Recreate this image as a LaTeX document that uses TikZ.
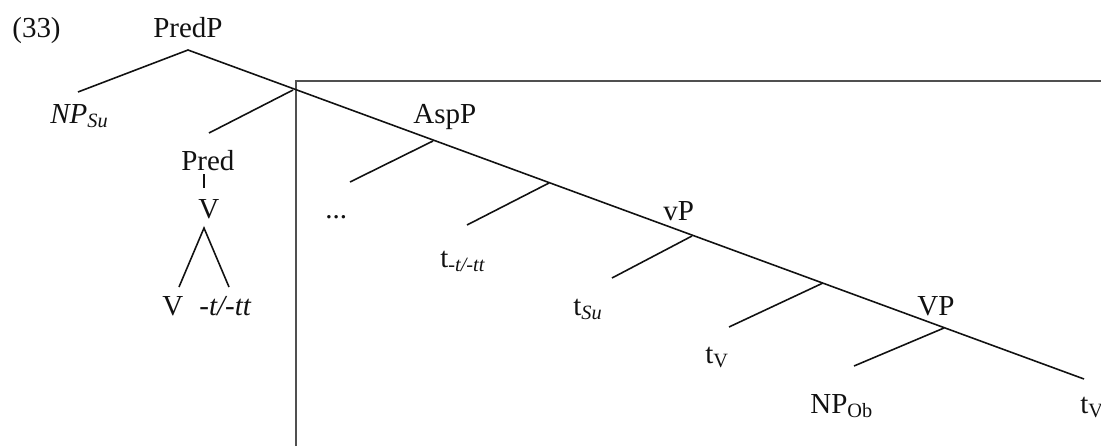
\documentclass[tikz,border=0pt]{standalone}
\usepackage{fontspec}
\setmainfont{Liberation Serif}
\usetikzlibrary{calc}
\definecolor{BoxGray}{HTML}{505050}
\definecolor{Ink}{HTML}{111111}

\begin{document}
\begin{tikzpicture}[x=0.02cm, y=-0.02cm,
    font=\fontsize{16.5}{20}\selectfont,
    lbl/.style={anchor=base west, inner sep=0pt, text=Ink},
    branch/.style={draw=Ink, line width=0.9pt}]
  \useasboundingbox (0,0) rectangle (1101,446);

  % The box round the lower part of the tree.
  \draw[BoxGray, line width=1.3pt] (296,446) -- (296,81) -- (1101,81);

  % Labels.
  \node[lbl] (num) at (12,38) {(33)};
  \node[lbl] (predp) at (153,38) {PredP};
  \node[lbl] (npsu) at (50,123) {\textit{NP}\textsubscript{\textit{Su}}};
  \node[lbl] (pred) at (181,170) {Pred};
  \node[lbl] (vhead) at (198,218) {V};
  \node[lbl] (vleaf) at (162,315) {V};
  \node[lbl] (suffix) at (199,315) {\textit{-t/-tt}};
  \node[lbl] (aspp) at (413,123) {AspP};
  \node[lbl] (dots) at (325,218) {...};
  \node[lbl] (tsuf) at (440,267) {t\textsubscript{\textit{-t/-tt}}};
  \node[lbl] (vp) at (663,220) {vP};
  \node[lbl] (tsu) at (573,315) {t\textsubscript{\textit{Su}}};
  \node[lbl] (tv) at (705,363) {t\textsubscript{V}};
  \node[lbl] (bigvp) at (917,315) {VP};
  \node[lbl] (npob) at (810,413) {NP\textsubscript{Ob}};
  \node[lbl] (tvend) at (1080,413) {t\textsubscript{V}};

  % Branching points on the spine and the ends of the branches.
  \coordinate (top) at (188,50);
  \coordinate (predbar) at (293,90);
  \coordinate (aspj) at (433,141);
  \coordinate (aspbar) at (549,183);
  \coordinate (vpj) at (692,236);
  \coordinate (vbar) at (823,283);
  \coordinate (bigvpj) at (944,328);
  \coordinate (spineend) at (1084,379);
  \coordinate (npsutip) at (78,92);
  \coordinate (predtip) at (209,133);
  \coordinate (dotstip) at (350,182);
  \coordinate (tsuftip) at (467,225);
  \coordinate (tsutip) at (612,278);
  \coordinate (tvtip) at (729,327);
  \coordinate (npobtip) at (854,366);
  \coordinate (vtop) at (204,174);
  \coordinate (vbot) at (204,188);
  \coordinate (vapex) at (204,228);
  \coordinate (vleaftip) at (179,287);
  \coordinate (suffixtip) at (229,287);

  % The spine and its left branches.
  \draw[branch] (npsutip) -- (top) -- (spineend);
  \draw[branch] (predbar) -- (predtip);
  \draw[branch] (aspj) -- (dotstip);
  \draw[branch] (aspbar) -- (tsuftip);
  \draw[branch] (vpj) -- (tsutip);
  \draw[branch] (vbar) -- (tvtip);
  \draw[branch] (bigvpj) -- (npobtip);

  % The complex head under Pred.
  \draw[branch] (vtop) -- (vbot);
  \draw[branch] (vleaftip) -- (vapex) -- (suffixtip);
\end{tikzpicture}
\end{document}
